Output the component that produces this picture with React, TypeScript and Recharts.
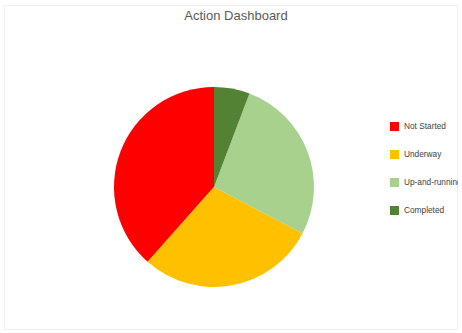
import { Cell, Legend, Pie, PieChart } from "recharts";

const statuses = ["Not Started", "Underway", "Up-and-running", "Completed"];
const counts = [20, 15, 14, 3];
const colors = ["#ff0000", "#ffc000", "#a9d18e", "#548235"];

const data = statuses.map((name, i) => ({ name, value: counts[i] }));

function StatusLegend() {
  return (
    <div style={{ width: 68, overflow: "hidden" }}>
      {statuses.map((name, i) => (
        <div
          key={name}
          style={{
            display: "flex",
            alignItems: "center",
            height: 28,
            whiteSpace: "nowrap",
          }}
        >
          <span
            style={{
              display: "inline-block",
              width: 9,
              height: 9,
              marginRight: 5,
              flexShrink: 0,
              background: colors[i],
            }}
          />
          <span style={{ fontSize: 8.3, color: "#404040" }}>{name}</span>
        </div>
      ))}
    </div>
  );
}

export default function App() {
  return (
    <div
      style={{
        position: "absolute",
        left: 0,
        top: 0,
        width: 462,
        height: 333,
        background: "#fff",
        fontFamily: "'Liberation Sans', Arial, sans-serif",
      }}
    >
      <div
        style={{
          position: "absolute",
          left: 4,
          top: 5,
          width: 454,
          height: 325,
          border: "1px solid #f0f0f0",
          boxSizing: "border-box",
        }}
      />
      <div
        style={{
          position: "absolute",
          left: 0,
          top: 8,
          width: 472,
          textAlign: "center",
          fontSize: 13,
          color: "#595959",
        }}
      >
        Action Dashboard
      </div>
      <PieChart
        width={462}
        height={333}
        margin={{ top: 0, right: 0, bottom: 0, left: 0 }}
        style={{ position: "absolute", left: 0, top: 0 }}
      >
        <Pie
          data={data}
          dataKey="value"
          nameKey="name"
          cx={214}
          cy={187}
          outerRadius={100}
          startAngle={90}
          endAngle={450}
          stroke="none"
          isAnimationActive={false}
        >
          {data.map((d, i) => (
            <Cell key={d.name} fill={colors[i]} />
          ))}
        </Pie>
        <Legend
          content={<StatusLegend />}
          layout="vertical"
          wrapperStyle={{ left: 390, top: 112, width: 68 }}
        />
      </PieChart>
    </div>
  );
}
